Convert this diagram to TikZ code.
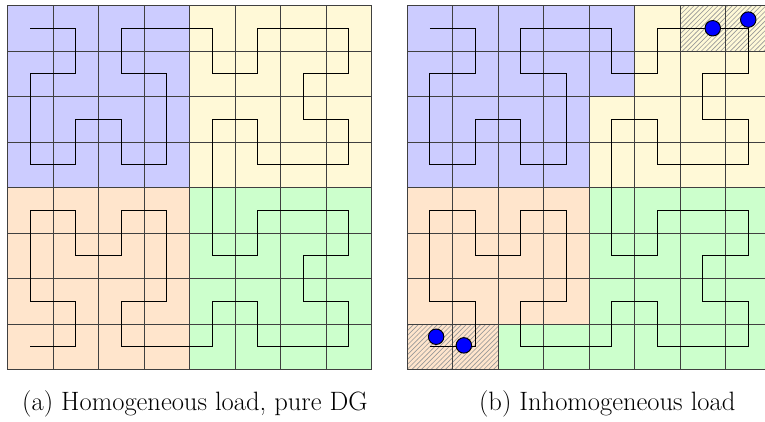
\documentclass[tikz,border=0pt]{standalone}
\usepackage[dvipsnames]{xcolor}
\usepackage{tikz}
\usetikzlibrary{patterns}

\definecolor{cellblue}{RGB}{204,204,255}
\definecolor{cellyellow}{RGB}{255,249,215}
\definecolor{cellorange}{RGB}{255,229,204}
\definecolor{cellgreen}{RGB}{204,255,204}

\tikzset{
  gridline/.style={black!75,line width=0.55pt},
  curve/.style={black,line width=0.5pt},
  hatch/.style={pattern=north east lines,pattern color=gray!80},
  particle/.style={fill=blue,draw=black,line width=0.6pt},
  subcap/.style={font=\fontsize{16.6}{19}\selectfont,anchor=base}
}

% Hilbert curve through the cell centres of the 8x8 grid
\newcommand{\hilbertcurve}{
  (0.5,7.5) -- (1.5,7.5) -- (1.5,6.5) -- (0.5,6.5) -- (0.5,4.5) -- (1.5,4.5) -- (1.5,5.5) -- (2.5,5.5)
  -- (2.5,4.5) -- (3.5,4.5) -- (3.5,6.5) -- (2.5,6.5) -- (2.5,7.5) -- (3.5,7.5)
  -- (4.5,7.5) -- (4.5,6.5) -- (5.5,6.5) -- (5.5,7.5) -- (7.5,7.5) -- (7.5,6.5) -- (6.5,6.5) -- (6.5,5.5)
  -- (7.5,5.5) -- (7.5,4.5) -- (5.5,4.5) -- (5.5,5.5) -- (4.5,5.5) -- (4.5,2.5)
  -- (5.5,2.5) -- (5.5,3.5) -- (7.5,3.5) -- (7.5,2.5) -- (6.5,2.5) -- (6.5,1.5) -- (7.5,1.5) -- (7.5,0.5)
  -- (5.5,0.5) -- (5.5,1.5) -- (4.5,1.5) -- (4.5,0.5)
  -- (2.5,0.5) -- (2.5,1.5) -- (3.5,1.5) -- (3.5,3.5) -- (2.5,3.5) -- (2.5,2.5) -- (1.5,2.5) -- (1.5,3.5)
  -- (0.5,3.5) -- (0.5,1.5) -- (1.5,1.5) -- (1.5,0.5) -- (0.5,0.5)
}

\begin{document}
\begin{tikzpicture}
  \useasboundingbox (-0.165,-1.143) rectangle (16.648,8.121);

  % (a) homogeneous load
  \fill[cellblue] (0,4) rectangle (4,8);
  \fill[cellyellow] (4,4) rectangle (8,8);
  \fill[cellorange] (0,0) rectangle (4,4);
  \fill[cellgreen] (4,0) rectangle (8,4);
  \draw[gridline] (0,0) grid (8,8);
  \draw[curve] \hilbertcurve;
  \node[subcap] (capa) at (4.12,-0.9) {(a) Homogeneous load, pure DG};

  % (b) inhomogeneous load
  \begin{scope}[xshift=8.78cm]
    \fill[cellblue] (0,4) rectangle (4,8);
    \fill[cellblue] (4,6) rectangle (5,8);
    \fill[cellyellow] (5,4) rectangle (8,8);
    \fill[cellyellow] (4,4) rectangle (5,6);
    \fill[cellorange] (0,1) rectangle (4,4);
    \fill[cellorange] (0,0) rectangle (2,1);
    \fill[cellgreen] (4,0) rectangle (8,4);
    \fill[cellgreen] (2,0) rectangle (4,1);
    \fill[hatch] (6,7) rectangle (8,8);
    \fill[hatch] (0,0) rectangle (2,1);
    \draw[gridline] (0,0) grid (8,8);
    \draw[curve] \hilbertcurve;
    \filldraw[particle] (6.72,7.5) circle(0.17);
    \filldraw[particle] (7.5,7.69) circle(0.17);
    \filldraw[particle] (0.64,0.72) circle(0.17);
    \filldraw[particle] (1.25,0.53) circle(0.17);
  \end{scope}
  \node[subcap] (capb) at (13.18,-0.9) {(b) Inhomogeneous load};
\end{tikzpicture}
\end{document}
